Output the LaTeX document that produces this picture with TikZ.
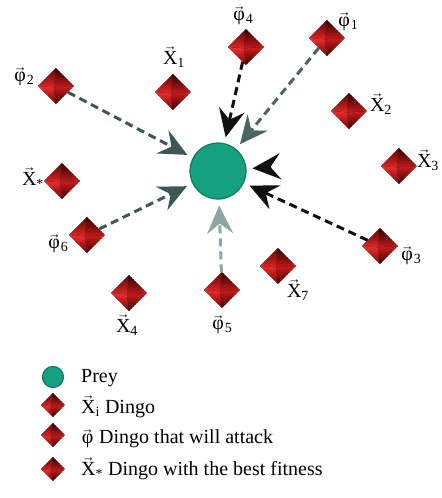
\documentclass[tikz,border=0pt]{standalone}
\usepackage{fontspec}
\setmainfont{Liberation Serif}
\usetikzlibrary{arrows.meta,shapes.geometric}

% palette
\definecolor{preyfill}{HTML}{17A07F}
\definecolor{preyedge}{HTML}{0D7A60}
\definecolor{slatedark}{HTML}{3E5656}
\definecolor{slatemid}{HTML}{4C6464}
\definecolor{slatelight}{HTML}{8FA4A4}
\definecolor{nearblack}{HTML}{111111}
\definecolor{facetA}{HTML}{5E0404}
\definecolor{facetB}{HTML}{E02626}
\definecolor{facetC}{HTML}{320000}
\definecolor{facetD}{HTML}{C41B1B}
\definecolor{facetE}{HTML}{EC3030}
\definecolor{facetF}{HTML}{7A0000}
\definecolor{facetG}{HTML}{CC1E1E}
\definecolor{facetH}{HTML}{3A0000}

% vector arrow set above a text letter
\newcommand\vecx[1]{\leavevmode\vbox{\offinterlineskip
  \halign{\hfil##\hfil\cr
    {\fontsize{13bp}{13bp}\selectfont →}\cr
    \noalign{\kern0.5bp}
    #1\cr}}}

\tikzset{
  every node/.style={font=\fontsize{20bp}{24bp}\selectfont},
  prey/.style={circle, minimum size=#1, inner sep=0pt, fill=preyfill,
    draw=preyedge, line width=1.2bp},
  prey/.default=56bp,
  dingo/.style={diamond, aspect=1, inner sep=0pt, minimum size=#1,
    path picture={
      \coordinate (apex) at ([shift={(-2bp,-1.5bp)}]path picture bounding box.center);
      \fill[top color=facetA, bottom color=facetB]
        (path picture bounding box.north) -- (apex)
        -- (path picture bounding box.west) -- cycle;
      \fill[top color=facetC, bottom color=facetD]
        (path picture bounding box.north) -- (apex)
        -- (path picture bounding box.east) -- cycle;
      \fill[top color=facetE, bottom color=facetF]
        (path picture bounding box.west) -- (apex)
        -- (path picture bounding box.south) -- cycle;
      \fill[top color=facetG, bottom color=facetH]
        (path picture bounding box.east) -- (apex)
        -- (path picture bounding box.south) -- cycle;
    }},
  dingo/.default=36bp,
  lbl/.style={inner sep=0pt},
  legtext/.style={inner sep=0pt, anchor=base west},
  atk/.style={draw=#1, line width=3bp, dash pattern=on 8bp off 5bp,
    shorten >=6bp, -{Stealth[length=28bp,width=26bp,inset=10bp]}},
}

\begin{document}
\begin{tikzpicture}[x=1bp,y=-1bp]
\useasboundingbox (0,0) rectangle (442,498);
\fill[white] (0,0) rectangle (442,498);

% prey
\node[prey] (prey) at (218,171) {};

% dingoes
\node[dingo] (p4) at (246,47) {};
\node[dingo] (p1) at (327,38) {};
\node[dingo] (x1) at (173,92) {};
\node[dingo] (p2) at (56,86) {};
\node[dingo] (x2) at (349,111) {};
\node[dingo] (x3) at (399,166) {};
\node[dingo] (xs) at (62,181) {};
\node[dingo] (p6) at (87,235) {};
\node[dingo] (x4) at (129,293) {};
\node[dingo] (p5) at (222,290) {};
\node[dingo] (x7) at (278,266) {};
\node[dingo] (p3) at (380,246) {};

% labels
\node[lbl] (lp4) at (243,16) {\vecx{φ}\textsubscript{4}};
\node[lbl] (lp1) at (348,22) {\vecx{φ}\textsubscript{1}};
\node[lbl] (lx1) at (174,57) {\vecx{X}\textsubscript{1}};
\node[lbl] (lp2) at (24,77) {\vecx{φ}\textsubscript{2}};
\node[lbl] (lx2) at (381,104) {\vecx{X}\textsubscript{2}};
\node[lbl] (lx3) at (428,160) {\vecx{X}\textsubscript{3}};
\node[lbl] (lxs) at (33,178) {\vecx{X}\textsubscript{*}};
\node[lbl] (lp6) at (58,244) {\vecx{φ}\textsubscript{6}};
\node[lbl] (lx4) at (127,325) {\vecx{X}\textsubscript{4}};
\node[lbl] (lp5) at (222,325) {\vecx{φ}\textsubscript{5}};
\node[lbl] (lx7) at (298,290) {\vecx{X}\textsubscript{7}};
\node[lbl] (lp3) at (411,256) {\vecx{φ}\textsubscript{3}};

% attacks on the prey
\coordinate (rh) at (271,167);
\draw[atk=slatedark] (p2) -- (prey);
\draw[atk=nearblack] (p4) -- (prey);
\draw[atk=slatemid] (p1) -- (prey);
\draw[atk=nearblack] (p3) -- (prey);
\draw[atk=slatedark] (p6) -- (prey);
\draw[atk=slatelight] (p5) -- (prey);
\draw[atk=nearblack, solid] (rh) -- (prey);

% legend
\node[prey=21bp] (kprey) at (53,377) {};
\node[dingo=24bp] (kx) at (53,405) {};
\node[dingo=24bp] (kp) at (53,435) {};
\node[dingo=24bp] (ks) at (53,469) {};
\node[legtext] (tprey) at (81,382) {Prey};
\node[legtext] (tx) at (81,413) {\vecx{X}\textsubscript{i} Dingo};
\node[legtext] (tp) at (81,443) {\vecx{φ} Dingo that will attack};
\node[legtext] (ts) at (81,475) {\vecx{X}\textsubscript{*} Dingo with the best fitness};
\end{tikzpicture}
\end{document}
